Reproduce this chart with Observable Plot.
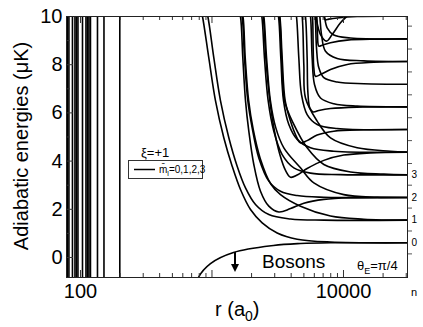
<!DOCTYPE html>
<html><head><meta charset="utf-8">
<script src="https://cdn.jsdelivr.net/npm/d3@7"></script>
<script src="https://cdn.jsdelivr.net/npm/@observablehq/plot@0.6"></script>
<style>
body{margin:0;background:#fff;}
#chart{width:423px;height:327px;}
svg{font-family:"Liberation Sans",Arial,Helvetica,sans-serif;}
</style></head><body><div id="chart"></div>
<script>
// ---- axes / ticks ----
const xDomain = [78.3, 30670];
const yDomain = [-0.83, 10];
const xMajorLabels = [100, 10000];
const xMajorTicks = [100, 1000, 10000];
const xMinorTicks = [200,300,400,500,600,700,800,900,2000,3000,4000,5000,6000,7000,8000,9000,20000,30000];
const yMajorTicks = [0, 2, 4, 6, 8, 10];
const yMinorTicks = [1, 3, 5, 7, 9];
const levelE = [0.61, 1.55, 2.49, 3.43];
const nLabels = ["0", "1", "2", "3"];
const rightTickE = [0.15, 1.10, 2.05, 3.00, 3.90, 4.85, 5.80, 6.75, 7.70, 8.65, 9.60];

// ---- inner repulsive walls (r in a0) ----
const wallR = [79.6, 81.7, 86.9, 90.8, 93.2, 95.7, 103.6, 110.1, 113.0, 116.0, 119.1, 134.7, 150.9, 199.1];

// ---- adiabatic curves: r (a0), E (μK) ----
const bosonsR = [775, 789, 974, 1457, 2936, 4710, 7965, 30670];
const bosonsE = [-1.05, -0.83, -0.25, 0.21, 0.50, 0.58, 0.61, 0.61];
const curveAR = [817, 847, 946, 1063, 1230, 1424, 1647, 1963, 2408, 3131, 4444, 7965, 30670];
const curveAE = [10.36, 10.0, 8.28, 6.51, 4.97, 3.79, 2.82, 1.99, 1.44, 1.02, 0.76, 0.64, 0.61];
const curveBR = [892, 930, 1033, 1160, 1343, 1554, 1798, 2142, 2705, 3954, 7088, 30670];
const curveBE = [10.36, 10.0, 8.28, 6.51, 4.97, 3.79, 2.89, 2.20, 1.78, 1.60, 1.55, 1.55];
const dip1R = [1581, 1647, 1716, 1798, 1906, 2080, 2338, 2705, 3224, 3954, 4994, 7088, 11302, 30670];
const dip1E = [10.36, 10.0, 8.28, 6.51, 5.24, 3.86, 2.75, 2.13, 1.89, 2.03, 2.25, 2.41, 2.48, 2.49];
const diag1R = [1650, 1720, 1790, 1900, 2060, 2330, 2800, 3319, 4710, 7965, 14275, 30670];
const diag1E = [10.36, 10.0, 8.28, 6.51, 5.30, 4.10, 3.05, 2.61, 2.13, 1.72, 1.59, 1.55];
const fall2R = [1628, 1696, 1767, 1873, 2021, 2271, 2705, 3319, 4444, 7088, 30670];
const fall2E = [10.36, 10.0, 8.28, 6.51, 5.38, 4.13, 3.17, 2.75, 2.57, 2.50, 2.49];
const fall3R = [2311, 2393, 2507, 2674, 2953, 3417, 4191, 5613, 9489, 30670];
const fall3E = [10.36, 10.0, 8.28, 6.51, 5.24, 4.27, 3.72, 3.50, 3.44, 3.43];
const diag2R = [2400, 2480, 2600, 2780, 3050, 3519, 4710, 5949, 10058, 18030, 30670];
const diag2E = [10.36, 10.0, 8.28, 6.51, 5.40, 4.55, 3.72, 3.10, 2.61, 2.50, 2.49];
const dip2R = [2365, 2450, 2567, 2754, 2988, 3281, 3623, 3954, 4444, 5292, 7088, 10058, 16043, 30670];
const dip2E = [10.36, 10.0, 8.28, 6.51, 5.24, 4.27, 3.61, 3.33, 3.42, 3.69, 4.03, 4.25, 4.34, 4.37];
const fall4R = [3095, 3205, 3338, 3499, 3840, 4444, 5613, 8441, 30670];
const fall4E = [10.36, 10.0, 8.28, 6.51, 5.52, 4.90, 4.55, 4.41, 4.37];
const diag3R = [3150, 3260, 3390, 3560, 4191, 5292, 7088, 11302, 20267, 30670];
const diag3E = [10.36, 10.0, 8.28, 6.51, 5.52, 4.55, 3.86, 3.55, 3.46, 3.43];
const dip3R = [3166, 3281, 3417, 3601, 3954, 4315, 4710, 5292, 6306, 8441, 14275, 30670];
const dip3E = [10.36, 10.0, 8.28, 6.51, 5.66, 5.10, 4.76, 4.85, 5.08, 5.24, 5.30, 5.31];
const fall5R = [4266, 4391, 4575, 4794, 5292, 6306, 8950, 30670];
const fall5E = [10.36, 10.0, 8.28, 6.76, 5.93, 5.52, 5.35, 5.31];
const diag4R = [4700, 4850, 4994, 5140, 6306, 7965, 12706, 22775, 30670];
const diag4E = [10.36, 10.0, 8.0, 6.62, 5.66, 4.96, 4.55, 4.41, 4.37];
const dip4R = [4994, 5140, 5292, 5355, 5546, 5881, 6493, 7965, 12706, 30670];
const dip4E = [10.36, 10.0, 8.28, 6.90, 6.21, 6.04, 6.10, 6.18, 6.24, 6.25];
const fall6R = [5450, 5613, 5778, 6019, 6685, 8441, 12706, 30670];
const fall6E = [10.36, 10.0, 8.28, 7.18, 6.62, 6.38, 6.28, 6.25];
const dip5R = [5677, 5811, 5881, 5949, 6125, 6685, 7965, 10664, 17010, 30670];
const dip5E = [10.36, 10.0, 8.70, 7.87, 7.52, 7.59, 7.80, 8.01, 8.10, 8.13];
const fall7R = [5949, 6090, 6234, 6493, 7088, 8950, 14275, 30670];
const fall7E = [10.36, 10.0, 8.70, 7.87, 7.46, 7.28, 7.21, 7.19];
const dip6R = [6161, 6269, 6343, 6493, 6883, 7965, 10664, 18030, 30670];
const dip6E = [10.36, 10.0, 9.25, 8.77, 8.81, 8.91, 9.02, 9.06, 9.07];
const fall8R = [6455, 6607, 6805, 7297, 8950, 14275, 30670];
const fall8E = [10.36, 10.0, 9.25, 8.56, 8.26, 8.16, 8.13];
const vR = [6019, 6161, 6685, 7426, 8200, 9489, 10980, 11985];
const vE = [10.36, 10.0, 9.25, 8.98, 9.25, 9.74, 10.08, 10.29];
const fall9R = [7005, 7171, 7513, 8441, 11302, 30670];
const fall9E = [10.36, 10.0, 9.53, 9.23, 9.11, 9.07];
const dip7R = [6883, 7088, 7297, 7735, 8950, 12706, 30670];
const dip7E = [10.36, 10.01, 9.86, 9.89, 9.94, 10.0, 10.01];

const series = [
  ["bosons", bosonsR, bosonsE], ["A", curveAR, curveAE], ["B", curveBR, curveBE],
  ["dip1", dip1R, dip1E], ["diag1", diag1R, diag1E], ["fall2", fall2R, fall2E],
  ["fall3", fall3R, fall3E], ["diag2", diag2R, diag2E],
  ["dip2", dip2R, dip2E], ["fall4", fall4R, fall4E], ["diag3", diag3R, diag3E], ["dip3", dip3R, dip3E],
  ["fall5", fall5R, fall5E], ["diag4", diag4R, diag4E], ["dip4", dip4R, dip4E], ["fall6", fall6R, fall6E],
  ["dip5", dip5R, dip5E], ["fall7", fall7R, fall7E], ["dip6", dip6R, dip6E],
  ["fall8", fall8R, fall8E], ["v", vR, vE], ["fall9", fall9R, fall9E], ["dip7", dip7R, dip7E]
];
const rows = series.flatMap(([id, rs, es]) => rs.map((r, i) => ({id, r, E: es[i]})));

const W = 423, H = 327, mL = 66, mR = 16, mT = 16, mB = 50;
const frameW = W - mL - mR, frameH = H - mT - mB;
const font = '"Liberation Sans", Arial, Helvetica, sans-serif';

const plot = Plot.plot({
  width: W, height: H, marginLeft: mL, marginRight: mR, marginTop: mT, marginBottom: mB,
  style: {fontFamily: font, background: "white", color: "black", overflow: "visible"},
  x: {type: "log", domain: xDomain},
  y: {domain: yDomain},
  marks: [
    Plot.ruleX(wallR, {stroke: "black", strokeWidth: 1.6}),
    Plot.line(rows, {x: "r", y: "E", z: "id", curve: "catmull-rom", stroke: "black", strokeWidth: 1.6, clip: true}),
    Plot.tickX(xMinorTicks, {insetTop: frameH - 4, stroke: "#333"}),
    Plot.tickX(xMinorTicks, {insetBottom: frameH - 4, stroke: "#333"}),
    Plot.tickX(xMajorTicks, {insetTop: frameH - 7, stroke: "#333"}),
    Plot.tickX(xMajorTicks, {insetBottom: frameH - 7, stroke: "#333"}),
    Plot.tickY(yMinorTicks, {insetRight: frameW - 4, stroke: "#333"}),
    Plot.tickY(yMajorTicks, {insetRight: frameW - 7, stroke: "#333"}),
    Plot.axisX({ticks: xMajorLabels, tickSize: 0, tickPadding: 6, fontSize: 20, tickFormat: d => String(d), label: null}),
    Plot.axisY({ticks: yMajorTicks, tickSize: 0, tickPadding: 4, fontSize: 20, label: null}),
    Plot.axisY({anchor: "right", ticks: levelE, tickSize: 0, tickPadding: 4, fontSize: 10, tickFormat: (d, i) => nLabels[i], label: null}),
    Plot.axisY({anchor: "right", ticks: rightTickE, tickSize: 4, tickFormat: () => "", label: null, stroke: "#555"}),
    Plot.frame({stroke: "#222"})
  ]
});
document.getElementById("chart").appendChild(plot);

// ---- annotations ----
const svg = d3.select(plot);
const g = svg.append("g").attr("font-family", font).attr("fill", "black").attr("text-anchor", "start");
g.append("text").attr("x", 141).attr("y", 157).attr("font-size", 13).text("ξ=+1");
g.append("rect").attr("x", 128.5).attr("y", 160.5).attr("width", 74).attr("height", 18)
  .attr("fill", "white").attr("stroke", "#333").attr("stroke-width", 1);
g.append("line").attr("x1", 134).attr("x2", 155).attr("y1", 169.5).attr("y2", 169.5).attr("stroke", "black").attr("stroke-width", 1.5);
{
  const t = g.append("text").attr("x", 159).attr("y", 173).attr("font-size", 10);
  t.append("tspan").text("m\u0304");
  t.append("tspan").attr("font-size", 7).attr("dy", 2.5).text("l");
  t.append("tspan").attr("dy", -2.5).text("=0,1,2,3");
}
g.append("text").attr("x", 262).attr("y", 268).attr("font-size", 19).text("Bosons");
g.append("line").attr("x1", 235).attr("x2", 235).attr("y1", 252).attr("y2", 266).attr("stroke", "black").attr("stroke-width", 2);
g.append("path").attr("d", "M231,264 L239,264 L235,272 Z").attr("fill", "black");
{
  const t = g.append("text").attr("x", 357).attr("y", 270).attr("font-size", 13);
  t.append("tspan").text("θ");
  t.append("tspan").attr("font-size", 9).attr("dy", 3.5).text("E");
  t.append("tspan").attr("dy", -3.5).text("=π/4");
}
g.append("text").attr("x", 411).attr("y", 296).attr("font-size", 11).text("n");
{
  const t = g.append("text").attr("x", 215).attr("y", 316).attr("font-size", 20);
  t.append("tspan").text("r (a");
  t.append("tspan").attr("font-size", 14).attr("dy", 5).text("0");
  t.append("tspan").attr("dy", -5).text(")");
}
g.append("text").attr("transform", "translate(28,146) rotate(-90)").attr("text-anchor", "middle")
  .attr("font-size", 20).text("Adiabatic energies (μK)");
</script>
</body></html>
